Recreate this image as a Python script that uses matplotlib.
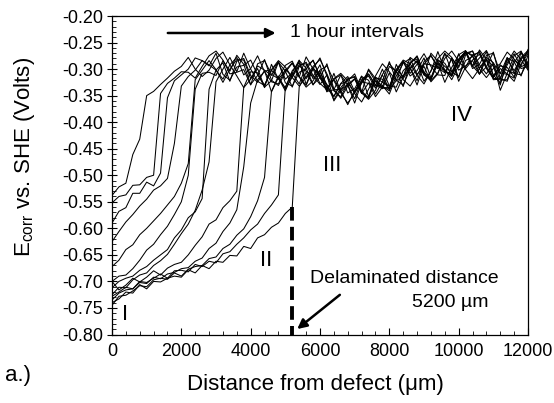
import numpy as np
import matplotlib
matplotlib.use('Agg')
import matplotlib.pyplot as plt
from matplotlib.ticker import MultipleLocator, FormatStrFormatter

plt.rcParams['font.family'] = ['Liberation Sans', 'DejaVu Sans']
plt.rcParams['mathtext.fontset'] = 'custom'
plt.rcParams['mathtext.rm'] = 'Liberation Sans'
plt.rcParams['axes.unicode_minus'] = False

# ── Data: E_corr (mV vs SHE) read every 200 um, one list per hourly scan ──
distance = np.arange(0, 12001, 200)

h01 = [-538, -522, -515, -461, -432, -350, -342, -329, -317, -304,
       -295, -278, -300, -314, -302, -280, -268, -292, -313, -335,
       -319, -294, -302, -312, -286, -326, -332, -306, -300, -283,
       -315, -338, -319, -341, -367, -341, -322, -313, -336, -311,
       -338, -322, -286, -298, -330, -291, -275, -297, -307, -280,
       -323, -296, -273, -269, -298, -315, -294, -297, -315, -268, -300]
h02 = [-552, -540, -537, -519, -518, -504, -500, -346, -327, -317, -305,
       -306, -317, -295, -275, -266, -283, -309, -306, -301, -330,
       -290, -284, -310, -318, -335, -303, -288, -318, -299, -279,
       -313, -341, -352, -326, -345, -314, -321, -347, -324, -286,
       -321, -330, -300, -285, -311, -270, -285, -305, -308, -282,
       -267, -299, -291, -267, -313, -292, -303, -308, -278, -265]
h03 = [-590, -568, -561, -534, -534, -513, -520, -496, -354, -322, -311, -300,
       -279, -284, -294, -270, -310, -321, -296, -293, -283,
       -311, -330, -302, -317, -341, -311, -292, -290, -318, -303,
       -342, -339, -311, -330, -364, -325, -310, -330, -337, -307,
       -343, -315, -287, -281, -310, -319, -284, -289, -312, -271,
       -299, -283, -272, -299, -318, -317, -288, -266, -282, -302]
h04 = [-625, -606, -588, -574, -558, -545, -528, -520, -506, -440, -332, -314, -302,
       -284, -292, -302, -319, -292, -278, -311, -299,
       -275, -305, -324, -328, -300, -315, -284, -298, -329, -316,
       -290, -338, -355, -332, -319, -345, -300, -318, -335, -335,
       -302, -286, -313, -303, -279, -317, -282, -295, -305, -281,
       -267, -276, -300, -316, -299, -290, -268, -281, -299, -295]
h05 = [-672, -660, -640, -631, -612, -600, -586, -572, -556, -540, -515, -478, -320, -302,
       -284, -301, -325, -300, -282, -283, -318,
       -299, -334, -322, -287, -304, -334, -295, -287, -312, -329,
       -311, -360, -340, -319, -315, -344, -354, -317, -319, -339,
       -291, -318, -297, -284, -311, -322, -307, -280, -266, -285,
       -301, -318, -299, -278, -288, -309, -278, -308, -311, -285]
h06 = [-700, -690, -688, -676, -660, -641, -630, -612, -596, -574, -550, -500, -338, -308,
       -306, -312, -284, -304, -274, -291, -329,
       -312, -282, -321, -331, -306, -289, -315, -277, -300, -327,
       -339, -319, -311, -345, -337, -313, -352, -315, -325, -332,
       -301, -283, -290, -312, -328, -303, -280, -266, -278, -302,
       -294, -284, -310, -274, -270, -307, -310, -317, -282, -267]
h07 = [-712, -700, -694, -690, -679, -672, -660, -650, -640, -618, -603, -580,
       -569, -544, -338, -302,
       -288, -323, -285, -280, -312,
       -325, -303, -343, -316, -293, -285, -314, -331, -299, -311,
       -343, -308, -343, -329, -318, -345, -357, -340, -310, -290,
       -305, -320, -332, -311, -290, -292, -299, -270, -305, -314,
       -284, -276, -267, -295, -316, -299, -309, -323, -290, -271]
h08 = [-725, -711, -712, -697, -688, -684, -670, -661, -649, -630, -610, -592,
       -566, -528, -475, -324, -300,
       -278, -305, -270, -300,
       -323, -331, -302, -287, -319, -307, -283, -329, -297, -317,
       -336, -318, -308, -322, -346, -362, -338, -313, -290, -305,
       -322, -313, -298, -322, -286, -274, -297, -302, -314, -285,
       -266, -294, -279, -265, -291, -321, -320, -282, -294, -263]
h09 = [-700, -716, -707, -694, -701, -692, -680, -688, -675, -668, -664,
       -650, -632, -616, -592, -584, -561, -548, -530, -334, -305,
       -307, -335, -291, -319, -303, -288, -315, -334, -322, -302,
       -294, -322, -345, -364, -345, -324, -327, -332, -300, -332,
       -334, -303, -290, -275, -307, -320, -289, -301, -320, -293,
       -270, -266, -298, -283, -320, -319, -279, -286, -313, -274]
h10 = [-735, -722, -716, -714, -702, -704, -692, -695, -686, -683, -676,
       -674, -662, -656, -638, -628, -606, -590, -565, -484, -364,
       -320, -304,
       -301, -284, -296, -316, -332, -315, -295, -282,
       -309, -339, -338, -330, -356, -320, -309, -330, -332, -341,
       -305, -285, -308, -291, -271, -295, -311, -312, -279, -297,
       -267, -274, -309, -296, -268, -318, -323, -288, -268, -294]
h11 = [-745, -728, -726, -718, -708, -710, -697, -694, -696, -684, -690,
       -677, -672, -670, -657, -654, -638, -630, -613, -601, -578,
       -548, -504, -342, -313,
       -338, -315, -294, -304, -314, -292,
       -336, -351, -328, -322, -309, -341, -355, -322, -331, -347,
       -313, -289, -280, -310, -295, -324, -309, -271, -283, -316,
       -273, -266, -292, -309, -289, -340, -308, -275, -266, -293]
h12 = [-728, -720, -711, -714, -700, -702, -694, -686, -694, -680, -679,
       -682, -668, -672, -662, -665, -648, -644, -630, -618, -603,
       -592, -572, -556, -537, -334, -308,
       -328, -294, -284, -314,
       -330, -352, -327, -314, -342, -327, -302, -323, -336, -336,
       -300, -314, -278, -288, -323, -304, -267, -303, -312, -286,
       -269, -295, -264, -282, -311, -326, -292, -271, -296, -288]
h13 = [-740, -733, -720, -722, -706, -714, -700, -701, -694, -690, -692,
       -678, -684, -670, -676, -662, -664, -651, -652, -634, -638,
       -618, -612, -598, -590, -572, -560, -334, -306,
       -330, -306,
       -329, -358, -335, -318, -314, -346, -326, -352, -334, -295,
       -304, -333, -289, -277, -306, -317, -288, -325, -297, -273,
       -265, -294, -309, -281, -295, -330, -281, -303, -280, -269]

scans = [h01, h02, h03, h04, h05, h06, h07, h08, h09, h10, h11, h12, h13]

# delaminated front
delam_x = 5200
delam_top = -0.56

# ── Plot ──────────────────────────────────────────
fig = plt.figure(figsize=(5.54, 4.03), dpi=100)
ax = fig.add_axes([112 / 554, 1 - 334.5 / 403, 416 / 554, 318.5 / 403])

for e in scans:
    ax.plot(distance, np.array(e) / 1000.0, color='black', lw=0.75)

ax.plot([delam_x, delam_x], [delam_top, -0.80], color='black', lw=2.8,
        dashes=(3.5, 1.6), solid_capstyle='butt')

ax.set_xlim(0, 12000)
ax.set_ylim(-0.80, -0.20)
ax.set_xticks(range(0, 12001, 2000))
ax.xaxis.set_minor_locator(MultipleLocator(400))
ax.set_yticks(np.arange(-0.80, -0.199, 0.05))
ax.yaxis.set_minor_locator(MultipleLocator(0.01))
ax.yaxis.set_major_formatter(FormatStrFormatter('%.2f'))
ax.tick_params(axis='x', which='major', direction='in', length=5, pad=6, labelsize=13)
ax.tick_params(axis='x', which='minor', direction='in', length=3)
ax.tick_params(axis='y', which='major', direction='inout', length=7, pad=3, labelsize=13)
ax.tick_params(axis='y', which='minor', direction='in', length=3)
for s in ax.spines.values():
    s.set_linewidth(0.9)

ax.set_xlabel('Distance from defect (\u03bcm)', fontsize=16)
ax.xaxis.set_label_coords(0.49, -0.125)
ax.set_ylabel(r'E$_{\mathrm{corr}}$ vs. SHE (Volts)', fontsize=16)
ax.yaxis.set_label_coords(-0.18, 0.557)

# ── Annotations ───────────────────────────────────
ax.annotate('', xy=(4800, -0.232), xytext=(1530, -0.232),
            arrowprops=dict(arrowstyle='-|>', lw=1.8, color='black', mutation_scale=14))
ax.text(5135, -0.232, '1 hour intervals', fontsize=14, va='center', ha='left')

ax.annotate('', xy=(5280, -0.793), xytext=(6635, -0.722),
            arrowprops=dict(arrowstyle='-|>', lw=1.8, color='black', mutation_scale=14))
ax.text(5712, -0.695, 'Delaminated distance', fontsize=14, va='center', ha='left')
ax.text(8654, -0.739, '5200 \u00b5m', fontsize=14, va='center', ha='left')

ax.text(375, -0.763, 'I', fontsize=16, ha='center', va='center')
ax.text(4442, -0.660, 'II', fontsize=16, ha='center', va='center')
ax.text(6346, -0.481, 'III', fontsize=16, ha='center', va='center')
ax.text(10096, -0.387, 'IV', fontsize=16, ha='center', va='center')

fig.text(5 / 554, 1 - 376 / 403, 'a.)', fontsize=16, ha='left', va='center')

fig.savefig('out.png', dpi=100)
